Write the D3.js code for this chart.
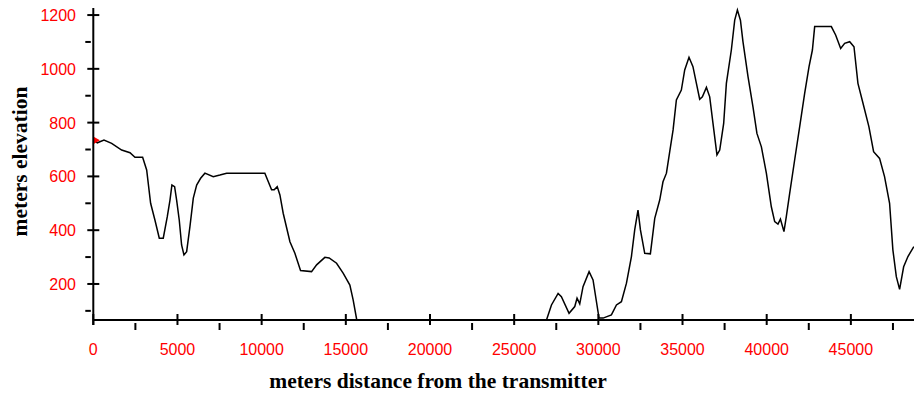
<!DOCTYPE html>
<html>
<head>
<meta charset="utf-8">
<script src="https://cdn.jsdelivr.net/npm/d3@7/dist/d3.min.js"></script>
<style>
  html, body { margin: 0; padding: 0; background: #fff; }
  svg { display: block; }
</style>
</head>
<body>
<script>
// Terrain profile between the transmitter and the receiver.
// Distance from the transmitter (m)
const distance = [
  0, 240, 635, 1090, 1685, 2180, 2475, 2930, 3170, 3405, 3660, 3920, 4155, 4395, 4555, 4670,
  4830, 4950, 5105, 5245, 5385, 5545, 5740, 5940, 6140, 6375, 6630, 7125, 7520, 7920, 10190,
  10590, 10745, 10925, 11085, 11280, 11680, 11975, 12310, 12965, 13265, 13755, 14010, 14450,
  14840, 15240, 15435, 15650, 26920, 27215, 27610, 27805, 28260, 28600, 28735, 28895, 29090,
  29450, 29685, 30040, 30280, 30775, 31075, 31370, 31670, 31965, 32160, 32355, 32500, 32755,
  33090, 33350, 33645, 33840, 34045, 34240, 34440, 34635, 34930, 35130, 35385, 35620, 35825,
  36020, 36180, 36420, 36615, 36810, 37045, 37210, 37445, 37605, 37900, 38100, 38260, 38440,
  38590, 38890, 39185, 39420, 39685, 39980, 40275, 40475, 40670, 40815, 41025, 41165, 41365,
  41660, 41960, 42255, 42515, 42715, 42850, 43840, 44095, 44395, 44630, 44930, 45185, 45420,
  45720, 46070, 46350, 46705, 47000, 47300, 47495, 47700, 47895, 48135, 48390, 48740
];
// Ground elevation (m)
const elevation = [
  736, 725, 735, 723, 698, 688, 671, 671, 624, 500, 438, 370, 370, 450, 512, 568,
  562, 512, 438, 345, 308, 320, 413, 519, 568, 593, 612, 599, 605, 612, 612,
  550, 550, 562, 531, 463, 357, 314, 250, 246, 271, 299, 297, 277,
  240, 196, 141, 66, 66, 122, 165, 153, 91, 116, 147, 126, 190,
  246, 215, 73, 73, 85, 122, 134, 203, 302, 401, 475, 401, 314,
  312, 444, 512, 580, 612, 692, 773, 884, 921, 996, 1043, 1008, 946,
  887, 896, 931, 896, 797, 680, 698, 797, 946, 1070, 1181, 1219, 1181,
  1101, 971, 859, 760, 710, 612, 487, 432, 423, 441, 395, 450, 537,
  661, 785, 909, 1008, 1070, 1157, 1157, 1126, 1076, 1095, 1101, 1082, 946,
  872, 785, 692, 667, 599, 500, 327, 227, 180, 264, 302, 339
];

const xMajorTicks = [0, 5000, 10000, 15000, 20000, 25000, 30000, 35000, 40000, 45000];
const xMinorTicks = [2500, 7500, 12500, 17500, 22500, 27500, 32500, 37500, 42500, 47500];
const yMajorTicks = [200, 400, 600, 800, 1000, 1200];
const yMinorTicks = [100, 300, 500, 700, 900, 1100];

const xTitle = "meters distance from the transmitter";
const yTitle = "meters elevation";

const W = 914, H = 396;
const x0 = 93.3, xEnd = 914, yBase = 320;

const x = d3.scaleLinear().domain([0, 48750]).range([x0, xEnd]);
const y = d3.scaleLinear().domain([66, 1256]).range([yBase, 0]);

const svg = d3.select("body").append("svg")
  .attr("width", W).attr("height", H);

const points = distance.map((d, i) => [d, elevation[i]]);

// terrain line
svg.append("path")
  .datum(points)
  .attr("fill", "none")
  .attr("stroke", "#000")
  .attr("stroke-width", 1.5)
  .attr("stroke-linejoin", "miter")
  .attr("d", d3.line().x(d => x(d[0])).y(d => y(d[1])));

// transmitter marker
svg.append("path")
  .attr("d", d3.symbol().type(d3.symbolTriangle).size(22)())
  .attr("transform", `translate(${x(distance[0]) + 2.5},${y(elevation[0]) + 0.5}) rotate(90)`)
  .attr("fill", "#ff0000");

// axes
const axisG = svg.append("g").attr("stroke", "#000");
axisG.append("line")
  .attr("x1", x0).attr("x2", xEnd).attr("y1", yBase).attr("y2", yBase)
  .attr("stroke-width", 2);
axisG.append("line")
  .attr("x1", x0).attr("x2", x0).attr("y1", 8).attr("y2", yBase + 5)
  .attr("stroke-width", 2);

// x ticks
axisG.selectAll(".xmaj").data(xMajorTicks).join("line")
  .attr("x1", d => x(d)).attr("x2", d => x(d))
  .attr("y1", yBase - 6).attr("y2", yBase + 5).attr("stroke-width", 2);
axisG.selectAll(".xmin").data(xMinorTicks).join("line")
  .attr("x1", d => x(d)).attr("x2", d => x(d))
  .attr("y1", yBase + 3).attr("y2", yBase + 10).attr("stroke-width", 2);

// y ticks
axisG.selectAll(".ymaj").data(yMajorTicks).join("line")
  .attr("x1", x0 - 6).attr("x2", x0 + 6)
  .attr("y1", d => y(d)).attr("y2", d => y(d)).attr("stroke-width", 2);
axisG.selectAll(".ymin").data(yMinorTicks).join("line")
  .attr("x1", x0 - 8).attr("x2", x0 - 2.5)
  .attr("y1", d => y(d)).attr("y2", d => y(d)).attr("stroke-width", 2);

// tick labels
const labelFont = "'Liberation Sans', Arial, sans-serif";
svg.selectAll(".xlab").data(xMajorTicks).join("text")
  .attr("x", d => x(d)).attr("y", 355)
  .attr("text-anchor", "middle")
  .attr("font-family", labelFont).attr("font-size", 16)
  .attr("fill", "#ff0000")
  .text(d => d);
svg.selectAll(".ylab").data(yMajorTicks).join("text")
  .attr("x", 76).attr("y", d => y(d) + 6)
  .attr("text-anchor", "end")
  .attr("font-family", labelFont).attr("font-size", 16)
  .attr("fill", "#ff0000")
  .text(d => d);

// axis titles
const titleFont = "'Liberation Serif', 'Times New Roman', serif";
svg.append("text")
  .attr("x", 438).attr("y", 388)
  .attr("text-anchor", "middle")
  .attr("font-family", titleFont).attr("font-weight", "bold").attr("font-size", 21.5)
  .attr("fill", "#000")
  .text(xTitle);
svg.append("text")
  .attr("transform", "translate(27,161.5) rotate(-90)")
  .attr("text-anchor", "middle")
  .attr("font-family", titleFont).attr("font-weight", "bold").attr("font-size", 21.5)
  .attr("fill", "#000")
  .text(yTitle);
</script>
</body>
</html>
